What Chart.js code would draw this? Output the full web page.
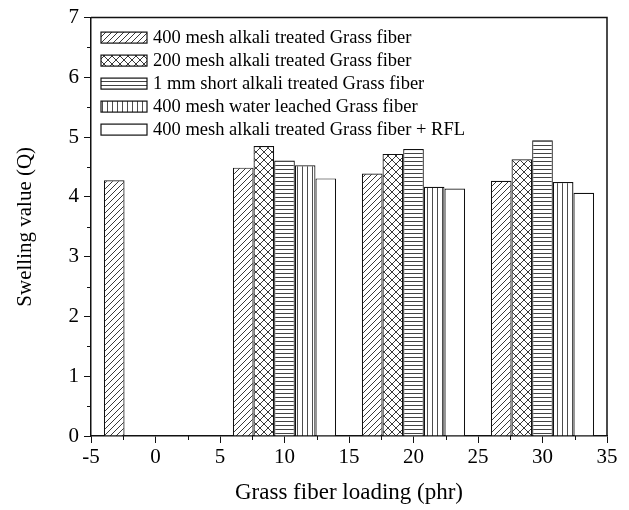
<!DOCTYPE html>
<html><head><meta charset="utf-8">
<script src="https://cdn.jsdelivr.net/npm/chart.js@4.4.0/dist/chart.umd.min.js"></script>
<style>html,body{margin:0;padding:0;background:#fff;}#wrap{width:629px;height:510px;}</style>
</head><body><div id="wrap"><canvas id="c" width="629" height="510"></canvas></div>
<script>
// ---- data ----
const xLoadings = [0, 10, 20, 30];
const seriesNames = [
  '400 mesh alkali treated Grass fiber',
  '200 mesh alkali treated Grass fiber',
  '1 mm short alkali treated Grass fiber',
  '400 mesh water leached Grass fiber',
  '400 mesh alkali treated Grass fiber + RFL'
];
const mesh400Alkali = [4.28, 4.49, 4.39, 4.27];
const mesh200Alkali = [null, 4.85, 4.72, 4.63];
const short1mmAlkali = [null, 4.61, 4.80, 4.95];
const mesh400Water = [null, 4.53, 4.17, 4.25];
const mesh400AlkaliRFL = [null, 4.31, 4.14, 4.07];
const seriesValues = [mesh400Alkali, mesh200Alkali, short1mmAlkali, mesh400Water, mesh400AlkaliRFL];
const xTitle = 'Grass fiber loading (phr)';
const yTitle = 'Swelling value (Q)';

// ---- styles ----
const FONT = '"Liberation Serif", "Times New Roman", serif';
const INK = '#111';

function makePattern(kind) {
  const c = document.createElement('canvas');
  const ctx = c.getContext('2d');
  let w = 6, h = 6;
  if (kind === 'cross') { w = h = 8; }
  if (kind === 'horiz') { w = 4; h = 4; }
  if (kind === 'vert') { w = 5; h = 4; }
  c.width = w; c.height = h;
  ctx.fillStyle = '#fff'; ctx.fillRect(0, 0, w, h);
  ctx.strokeStyle = '#222'; ctx.fillStyle = '#222';
  ctx.lineWidth = 0.9;
  if (kind === 'diag' || kind === 'cross') {
    ctx.beginPath();
    ctx.moveTo(0, h); ctx.lineTo(w, 0);
    ctx.moveTo(-2, 2); ctx.lineTo(2, -2);
    ctx.moveTo(w - 2, h + 2); ctx.lineTo(w + 2, h - 2);
    ctx.stroke();
  }
  if (kind === 'cross') {
    ctx.beginPath();
    ctx.moveTo(0, 0); ctx.lineTo(w, h);
    ctx.moveTo(-2, h - 2); ctx.lineTo(2, h + 2);
    ctx.moveTo(w - 2, -2); ctx.lineTo(w + 2, 2);
    ctx.stroke();
  }
  if (kind === 'horiz') {
    ctx.globalAlpha = 0.85; ctx.fillRect(0, 1, w, 1);
  }
  if (kind === 'vert') {
    ctx.globalAlpha = 0.8; ctx.fillRect(2, 0, 1, h);
  }
  return ctx.createPattern(c, 'repeat');
}
const patterns = ['diag', 'cross', 'horiz', 'vert', 'none'].map(k => k === 'none' ? '#fff' : makePattern(k));

const datasets = seriesNames.map((name, si) => ({
  label: name,
  data: xLoadings.map((x, i) => ({ x: x, y: seriesValues[si][i] })).filter(p => p.y !== null),
  backgroundColor: patterns[si],
  borderColor: INK,
  borderWidth: 1.2,
  categoryPercentage: 1.6,
  barPercentage: 1.0
}));

const frameAndLegend = {
  id: 'frameAndLegend',
  afterDatasetsDraw(chart) {
    const { ctx, chartArea: a, scales } = chart;
    ctx.save();
    // top and right frame lines
    ctx.strokeStyle = INK; ctx.lineWidth = 1.5;
    ctx.beginPath();
    ctx.moveTo(a.left, a.top); ctx.lineTo(a.right, a.top); ctx.lineTo(a.right, a.bottom);
    ctx.stroke();
    // minor ticks
    ctx.lineWidth = 1;
    ctx.beginPath();
    for (let v = -2.5; v < 35; v += 5) {
      const px = Math.round(scales.x.getPixelForValue(v)) + 0.5;
      ctx.moveTo(px, a.bottom); ctx.lineTo(px, a.bottom + 4);
    }
    for (let v = 0.5; v < 7; v += 1) {
      const py = Math.round(scales.y.getPixelForValue(v)) + 0.5;
      ctx.moveTo(a.left, py); ctx.lineTo(a.left - 4, py);
    }
    ctx.stroke();
    // legend
    const lx = a.left + 10, sw = 46, sh = 11, rowH = 23, ly0 = a.top + 20;
    ctx.font = '18.5px ' + FONT;
    ctx.textBaseline = 'middle';
    ctx.textAlign = 'left';
    chart.data.datasets.forEach((ds, i) => {
      const cy = ly0 + i * rowH;
      ctx.fillStyle = ds.backgroundColor;
      ctx.fillRect(lx, cy - sh / 2, sw, sh);
      ctx.strokeStyle = INK; ctx.lineWidth = 1.2;
      ctx.strokeRect(lx, cy - sh / 2, sw, sh);
      ctx.fillStyle = '#000';
      ctx.fillText(ds.label, lx + sw + 6, cy + 1);
    });
    ctx.restore();
  }
};

new Chart(document.getElementById('c'), {
  type: 'bar',
  data: { datasets: datasets },
  options: {
    responsive: false,
    animation: false,
    layout: { padding: { left: 0, top: 16, right: 22, bottom: 0 } },
    plugins: { legend: { display: false }, tooltip: { enabled: false } },
    scales: {
      x: {
        type: 'linear', min: -5, max: 35, offset: false,
        grid: { offset: false, drawOnChartArea: false, drawTicks: true, tickLength: 7, color: INK, lineWidth: 1 },
        border: { display: true, color: INK, width: 1.5 },
        ticks: { stepSize: 5, padding: 2, color: '#000', font: { family: FONT, size: 21 }, maxRotation: 0 },
        title: { display: true, text: xTitle, color: '#000', font: { family: FONT, size: 23, lineHeight: 1.2 }, padding: { top: 0, bottom: 3 } },
        afterFit(s) { s.height = 74; }
      },
      y: {
        min: 0, max: 7,
        grid: { drawOnChartArea: false, drawTicks: true, tickLength: 7, color: INK, lineWidth: 1 },
        border: { display: true, color: INK, width: 1.5 },
        ticks: { stepSize: 1, padding: 5, color: '#000', font: { family: FONT, size: 21 } },
        title: { display: true, text: yTitle, color: '#000', font: { family: FONT, size: 21, lineHeight: 1.2 }, padding: { top: 13, bottom: 0 } },
        afterFit(s) { s.width = 91; }
      }
    }
  },
  plugins: [frameAndLegend]
});
</script></body></html>
